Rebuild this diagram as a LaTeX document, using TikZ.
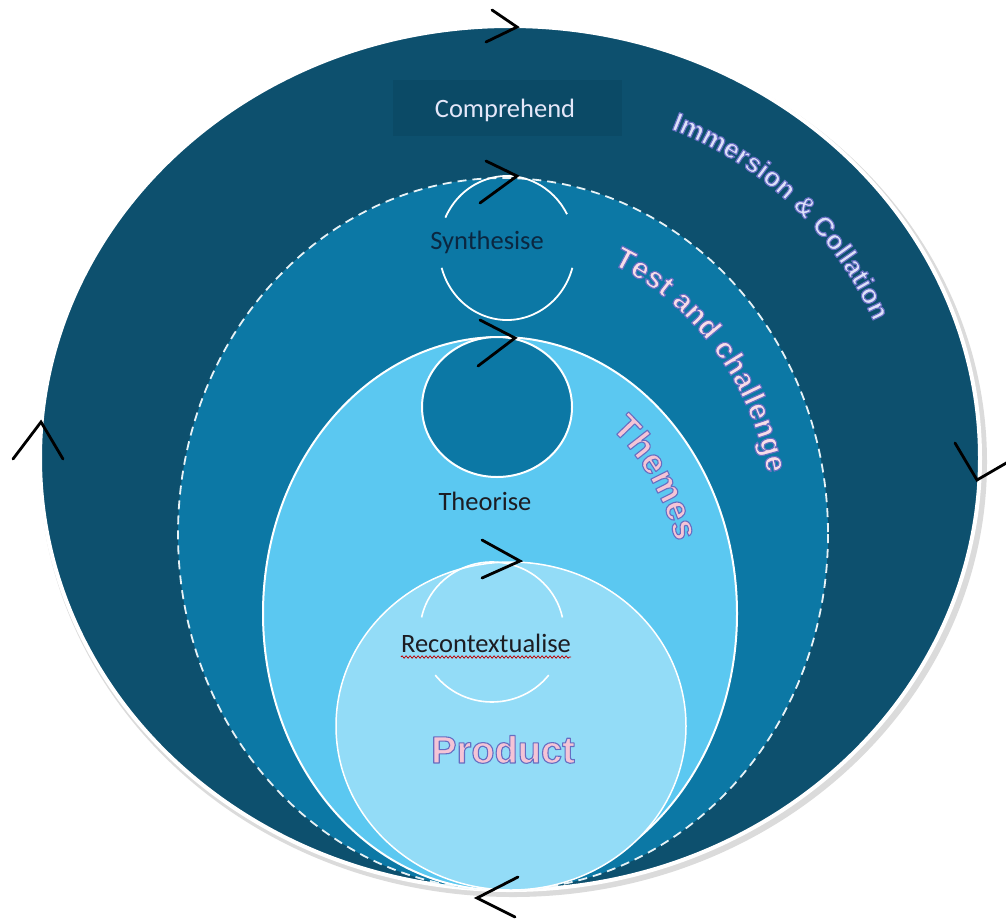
\documentclass[tikz,border=0pt]{standalone}
\usepackage{fontspec}
\setmainfont{Liberation Sans}
\newfontfamily\calib{Carlito}
\newfontfamily\wordart{Liberation Sans}
\usetikzlibrary{decorations.text,decorations.pathmorphing,calc}
\definecolor{outerC}{HTML}{0D506E}
\definecolor{boxC}{HTML}{0B4A66}
\definecolor{testC}{HTML}{0C78A5}
\definecolor{themeC}{HTML}{5BC8F1}
\definecolor{prodC}{HTML}{93DCF7}
\definecolor{immC}{HTML}{DDE1F8}
\definecolor{testTxt}{HTML}{F8DDE8}
\definecolor{pinkC}{HTML}{F5C4D6}
\definecolor{synC}{HTML}{0B2740}
\definecolor{darkTxt}{HTML}{1C1C22}
% outlined word-art text: fill colour #1, blue-violet outline
\newcommand\outl[1]{\special{pdf:literal direct 2 Tr 1.1 w 1 j}\color{#1}\special{pdf:literal direct 0.40 0.43 0.76 RG}}
\newcommand\arcLabel[4]{%
  \path[decorate,decoration={text along path,text align=center,text color=#3,
      text={|\wordart\bfseries\fontsize{#2}{#2}\selectfont\outl{#3}|#4}}] #1;}
\tikzset{
  ring/.style={draw=white,line width=2},
  chev/.style={draw=black,line width=2.8,line cap=round,line join=miter},
  lbl/.style={anchor=base,inner sep=0,font=\calib\fontsize{26.5}{26.5}\selectfont},
}
\begin{document}
\begin{tikzpicture}[x=1pt,y=-1pt]
\useasboundingbox (0,0) rectangle (1006,919);
\fill[white] (0,0) rectangle (1006,919);
% outer ellipse with shadow
\fill[black!14] (513,462) ellipse [x radius=474, y radius=435];
\filldraw[fill=outerC,draw=white,line width=4] (510,458) ellipse [x radius=470, y radius=432];
\fill[boxC] (393,80) rectangle (622,136);
% test and challenge
\filldraw[fill=testC,draw=white!90!testC,line width=1.8,dash pattern=on 9pt off 6pt] (503,534) ellipse [x radius=325, y radius=356];
% synthesise arcs
\draw[ring,line width=1.8] (507,248) ++(-155:68 and 72) arc [start angle=-155,end angle=-28,x radius=68,y radius=72];
\draw[ring,line width=1.8] (507,248) ++(16:68 and 72) arc [start angle=16,end angle=164,x radius=68,y radius=72];
% themes
\filldraw[fill=themeC,ring] (500,613.5) ellipse [x radius=237, y radius=276.5];
% theorise circle
\filldraw[fill=testC,ring] (497,407) ellipse [x radius=75, y radius=70];
% product circle
\filldraw[fill=prodC,draw=white,line width=1.5] (511,726) ellipse [x radius=175, y radius=164];
% recontextualise arcs
\draw[ring,line width=1.6] (492,632) ++(-168:72 and 70) arc [start angle=-168,end angle=-12,x radius=72,y radius=70];
\draw[ring,line width=1.6] (492,632) ++(38:72 and 70) arc [start angle=38,end angle=142,x radius=72,y radius=70];
% text labels
\node[lbl,text=immC!80!white] (comprehend) at (505,117) {Comprehend};
\node[lbl,text=synC] (synthesise) at (487,249) {Synthesise};
\node[lbl,text=darkTxt] (theorise) at (485,510) {Theorise};
\node[lbl,text=darkTxt] (recontext) at (486,652) {Recontextualise};
\draw[red!75!black,line width=0.8,decorate,decoration={snake,amplitude=1.1,segment length=4}] ($(recontext.base west)+(0,5)$) -- ($(recontext.base east)+(0,5)$);
% product wordart
\node[anchor=base,inner sep=0,font=\wordart\bfseries\fontsize{38}{38}\selectfont] (product) at (503,763) {\outl{pinkC}Product};
% curved labels
\arcLabel{(540,470) ++(-85:365) arc [start angle=-85,end angle=-8,radius=365]}{27}{immC}{Immersion {\&} Collation}
\arcLabel{(503,534) ++(-80:270 and 295) arc [start angle=-80,end angle=1,x radius=270,y radius=295]}{30}{testTxt}{Test and challenge}
\arcLabel{(500,613.5) ++(-66:185 and 231) arc [start angle=-66,end angle=-7,x radius=185,y radius=231]}{35}{pinkC}{Themes}
% chevrons
\coordinate (t1) at (517,27);
\draw[chev] (492,10) -- (t1) -- (486,42);
\coordinate (t2) at (517,176);
\draw[chev] (486,161) -- (t2) -- (480,203);
\coordinate (t3) at (515,338);
\draw[chev] (480,320) -- (t3) -- (478,366);
\coordinate (t4) at (520,561);
\draw[chev] (482,540) -- (t4) -- (482,578);
\coordinate (t5) at (41,422);
\draw[chev] (13,459) -- (t5) -- (63,459);
\coordinate (t6) at (977,480);
\draw[chev] (955,443) -- (t6) -- (1008,462);
\coordinate (t7) at (477,898);
\draw[chev] (518,877) -- (t7) -- (515,917);
\end{tikzpicture}
\end{document}
